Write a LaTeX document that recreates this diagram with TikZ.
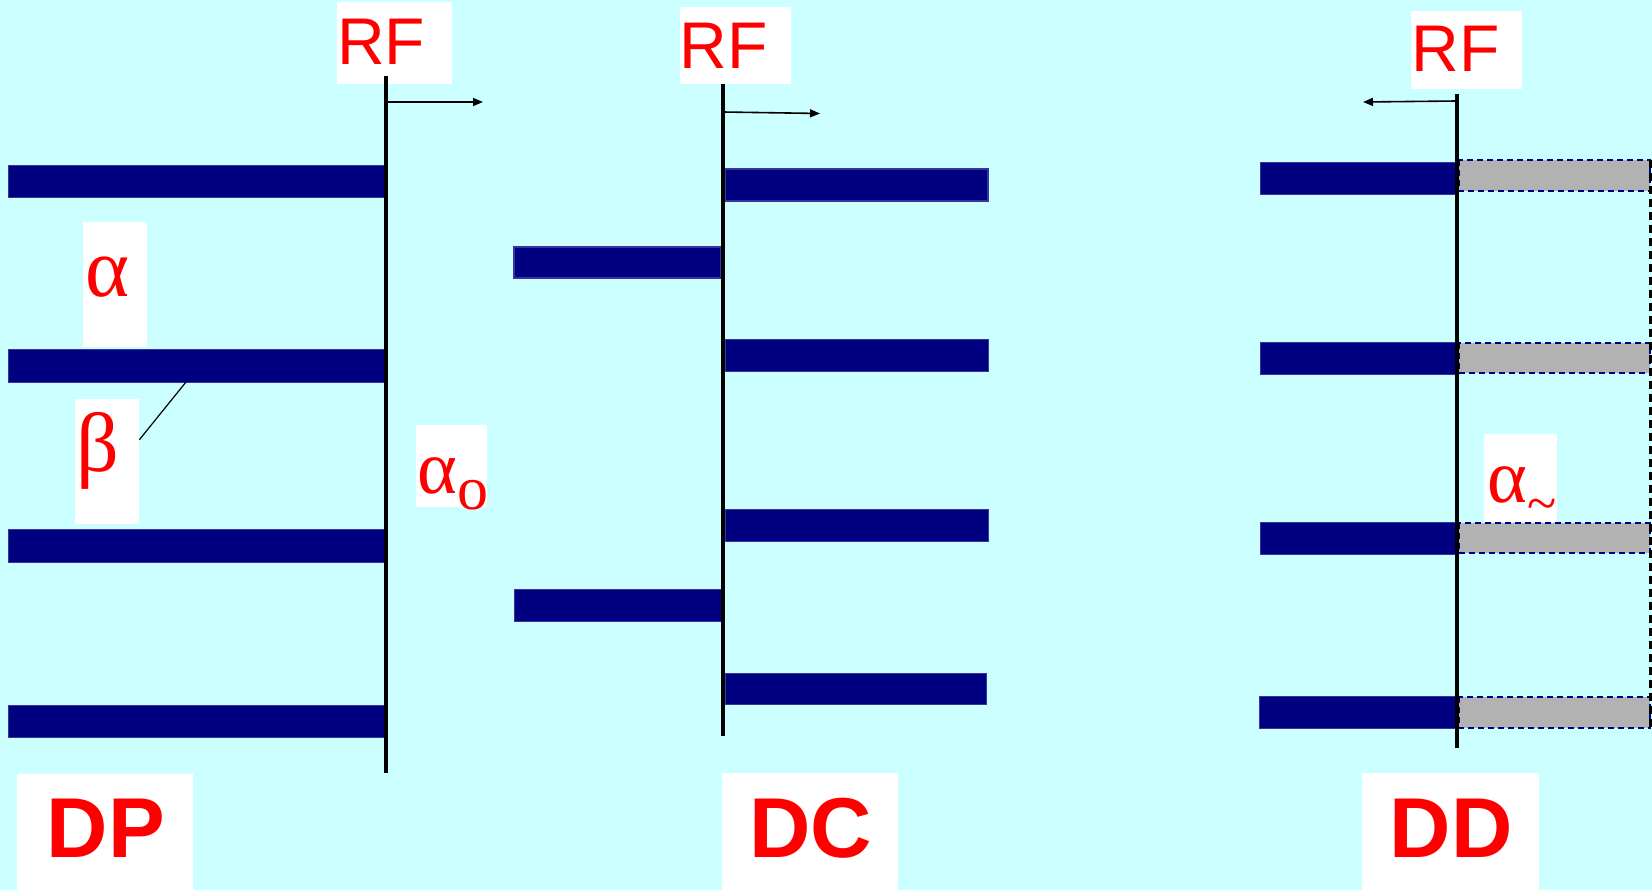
\documentclass[tikz,border=0pt]{standalone}
\usepackage{fontspec}
\setmainfont{Liberation Serif}
\newfontfamily\sansf{Liberation Sans}
\usetikzlibrary{arrows.meta}
\definecolor{bgc}{HTML}{CCFFFF}
\definecolor{navyc}{HTML}{000080}
\definecolor{navyb}{HTML}{3535A0}
\definecolor{redc}{HTML}{FF0000}
\definecolor{grayc}{HTML}{B2B2B2}
\tikzset{
  wbox/.style={fill=white, draw=none, anchor=north west, inner sep=0pt},
  rftxt/.style={anchor=base, inner sep=0pt, text=redc, font=\sansf\fontsize{66}{66}\selectfont},
  bigtxt/.style={anchor=base, inner sep=0pt, text=redc, font=\sansf\bfseries\fontsize{85}{85}\selectfont},
  grtxt/.style={anchor=base, inner sep=0pt, text=redc, font=\fontsize{84}{84}\selectfont},
  bar/.style={fill=navyc, draw=navyb, line width=0.8pt},
  barb/.style={fill=navyc, draw=navyb, line width=2pt},
  ghost/.style={fill=grayc, draw=navyc, line width=1.8pt, dash pattern=on 6pt off 4pt},
  rfline/.style={draw=black, line width=4pt},
  mvarrow/.style={draw=black, line width=1.6pt, -{Triangle[length=10pt,width=8pt]}},
}
\begin{document}
\begin{tikzpicture}[x=1pt,y=-1pt]
\useasboundingbox (0,0) rectangle (1652,890);
\fill[bgc] (0,0) rectangle (1652,890);

% ---------- DP ----------
\filldraw[bar] (8,165) rectangle (385,197);
\filldraw[bar] (8,349) rectangle (385,382);
\filldraw[bar] (8,529) rectangle (385,562);
\filldraw[bar] (8,705) rectangle (385,737);

\node[wbox, minimum width=115, minimum height=82] (rf1box) at (337,2) {};
\node[rftxt] (rf1) at (381,65) {RF};
\coordinate (l1top) at (386,76);
\coordinate (l1bot) at (386,773);
\draw[rfline] (l1top) -- (l1bot);
\coordinate (a1s) at (386,102);
\coordinate (a1e) at (483,102);
\draw[mvarrow] (a1s) -- (a1e);

\node[wbox, minimum width=64, minimum height=125] (albox) at (83,222) {};
\node[grtxt] (al) at (108,297) {α};
\node[wbox, minimum width=64, minimum height=125] (bebox) at (75,399) {};
\node[grtxt] (be) at (98,471) {β};
\coordinate (beon) at (186,382);
\draw[black, line width=1.2pt] (bebox.east) ++(0,-22) -- (beon);

\node[wbox, minimum width=71, minimum height=82] (aobox) at (416,425) {};
\node[anchor=base west, inner sep=0pt, text=redc, font=\fontsize{76}{76}\selectfont] (ao) at (417,493) {α\raisebox{-16pt}{\fontsize{62}{62}\selectfont o}};

\node[wbox, minimum width=176, minimum height=116] (dpbox) at (17,774) {};
\node[bigtxt] (dp) at (106,857) {DP};

% ---------- DC ----------
\filldraw[barb] (725,169) rectangle (988,201);
\filldraw[bar] (725,339) rectangle (988,371);
\filldraw[bar] (725,509) rectangle (988,541);
\filldraw[bar] (725,673) rectangle (986,704);
\filldraw[barb] (514,247) rectangle (721,278);
\filldraw[bar] (514,589) rectangle (721,621);

\node[wbox, minimum width=111, minimum height=77] (rf2box) at (680,7) {};
\node[rftxt] (rf2) at (723.5,69) {RF};
\coordinate (l2top) at (723,84);
\coordinate (l2bot) at (723,736);
\draw[rfline] (l2top) -- (l2bot);
\coordinate (a2s) at (723,112);
\coordinate (a2e) at (820,113.5);
\draw[mvarrow] (a2s) -- (a2e);

\node[wbox, minimum width=176, minimum height=117] (dcbox) at (722,773) {};
\node[bigtxt] (dc) at (811,857) {DC};

% ---------- DD ----------
\filldraw[bar] (1260,162) rectangle (1457,194);
\filldraw[bar] (1260,342) rectangle (1457,374);
\filldraw[bar] (1260,522) rectangle (1457,554);
\filldraw[bar] (1259,696) rectangle (1457,728);
\filldraw[ghost] (1459,160) rectangle (1650,191);
\filldraw[ghost] (1459,343) rectangle (1650,373);
\filldraw[ghost] (1459,523) rectangle (1650,553);
\filldraw[ghost] (1459,697) rectangle (1650,728);
\coordinate (dvtop) at (1650,160);
\coordinate (dvbot) at (1650,730);
\draw[black, line width=3pt, dash pattern=on 8pt off 5pt] (dvtop) -- (dvbot);

\node[wbox, minimum width=111, minimum height=78] (rf3box) at (1411,11) {};
\node[rftxt] (rf3) at (1455.5,72) {RF};
\coordinate (l3top) at (1457,94);
\coordinate (l3bot) at (1457,748);
\draw[rfline] (l3top) -- (l3bot);
\coordinate (a3s) at (1457,101);
\coordinate (a3e) at (1363,102);
\draw[mvarrow] (a3s) -- (a3e);

\node[wbox, minimum width=73, minimum height=88] (atbox) at (1484,434) {};
\node[anchor=base west, inner sep=0pt, text=redc, font=\fontsize{76}{76}\selectfont] (at) at (1487,502) {α\raisebox{-19pt}{\fontsize{54}{54}\selectfont\char"007E}};

\node[wbox, minimum width=177, minimum height=117] (ddbox) at (1362,773) {};
\node[bigtxt] (dd) at (1451,857) {DD};
\end{tikzpicture}
\end{document}
